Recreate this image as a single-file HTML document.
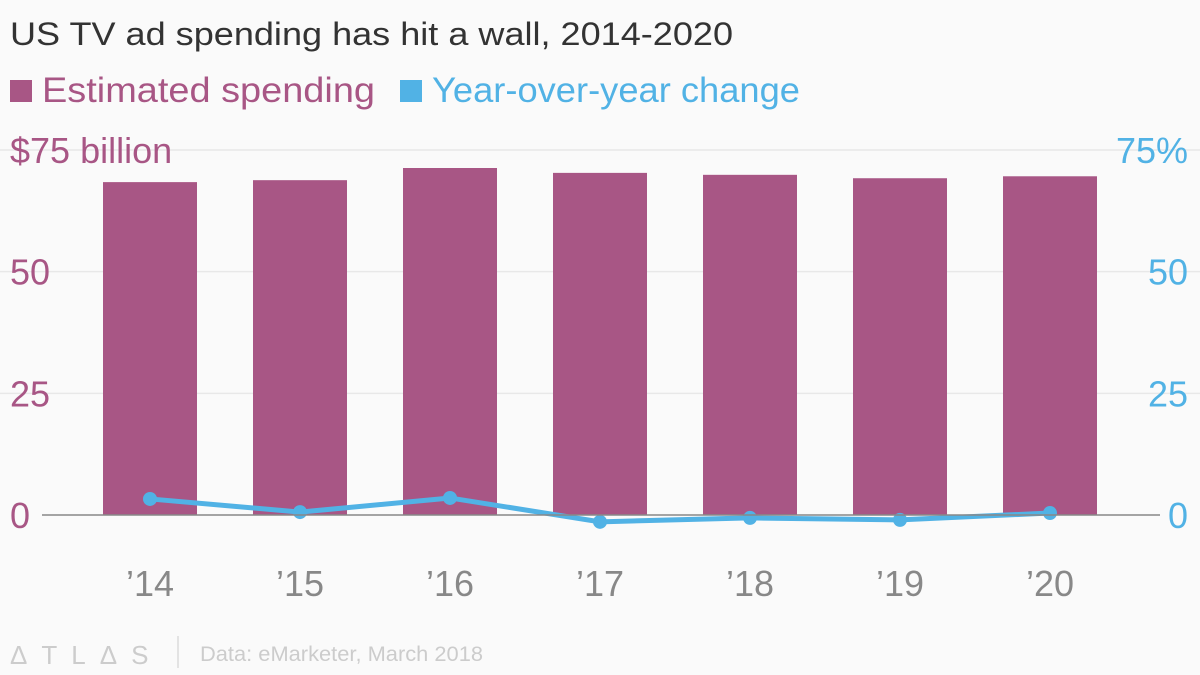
<!DOCTYPE html>
<html><head><meta charset="utf-8"><style>
body{margin:0;background:#fafafa;font-family:"Liberation Sans",sans-serif;}
#wrap{position:relative;width:1200px;height:675px;overflow:hidden;background:#fafafa}
</style></head><body>
<div id="wrap">
<svg id="chart" width="1200" height="675">
<text x="10" y="45" font-size="32" fill="#333" textLength="723" lengthAdjust="spacingAndGlyphs" font-family="Liberation Sans, sans-serif">US TV ad spending has hit a wall, 2014-2020</text>
<rect x="10" y="80" width="22" height="22" fill="#a85685"/>
<text x="42" y="102" font-size="35" fill="#a85685" textLength="333" lengthAdjust="spacingAndGlyphs">Estimated spending</text>
<rect x="400" y="80" width="22" height="22" fill="#51b2e5"/>
<text x="432" y="102" font-size="35" fill="#51b2e5" textLength="368" lengthAdjust="spacingAndGlyphs">Year-over-year change</text>
<g id="grid"></g><g id="bars"></g><g id="line"></g><g id="axes"></g>
<text x="10" y="664" font-size="26" fill="#ccc" letter-spacing="14">ΔTLΔS</text>
<line x1="178" y1="636" x2="178" y2="668" stroke="#ccc"/>
<text x="200" y="661" font-size="21" fill="#ccc" textLength="283" lengthAdjust="spacingAndGlyphs">Data: eMarketer, March 2018</text>
</svg>
</div>
<script>
const categories=["’14","’15","’16","’17","’18","’19","’20"];
const spending=[68.4,68.8,71.3,70.3,69.9,69.2,69.6];
const yoyChange=[3.3,0.6,3.5,-1.4,-0.6,-1.0,0.4];
const leftTicks=[0,25,50,75];
const leftTickLabels=["0","25","50","$75 billion"];
const rightTicks=[0,25,50,75];
const rightTickLabels=["0","25","50","75%"];
const NS="http://www.w3.org/2000/svg";
const y0=515,yTop=150;
const yL=v=>y0-(v/75)*(y0-yTop);
const yR=v=>y0-(v/75)*(y0-yTop);
const xC=i=>150+i*150;
function mk(t,a,p){const e=document.createElementNS(NS,t);for(const k in a)e.setAttribute(k,a[k]);p.appendChild(e);return e;}
const grid=document.getElementById('grid'),bars=document.getElementById('bars'),line=document.getElementById('line'),axes=document.getElementById('axes');
leftTicks.forEach((v,i)=>{
 if(v!==0){const g=mk('line',{x1:0,x2:1200,y1:yL(v),y2:yL(v),stroke:'#e8e8e8','stroke-width':1.5},grid);
 
 }
 const t=mk('text',{x:10,y:yL(v)+13,'font-size':36,fill:'#a85685'},axes);t.textContent=leftTickLabels[i];
 
 
});
rightTicks.forEach((v,i)=>{
 const t=mk('text',{x:1188,y:yR(v)+13,'font-size':36,fill:'#51b2e5','text-anchor':'end'},axes);t.textContent=rightTickLabels[i];
 
 
});
spending.forEach((v,i)=>{
 const r=mk('rect',{x:xC(i)-47,y:yL(v),width:94,height:y0-yL(v),fill:'#a85685'},bars);
 
 
 const t=mk('text',{x:xC(i),y:596,'font-size':36,fill:'#888','text-anchor':'middle'},axes);t.textContent=categories[i];
 
 
});
const zl=mk('line',{x1:42,x2:1160,y1:y0,y2:y0,stroke:'#888','stroke-width':1.5},axes);


const pl=mk('polyline',{points:yoyChange.map((v,i)=>xC(i)+','+yR(v)).join(' '),fill:'none',stroke:'#51b2e5','stroke-width':5},line);


yoyChange.forEach((v,i)=>{
 const c=mk('circle',{cx:xC(i),cy:yR(v),r:7,fill:'#51b2e5'},line);
 
 
});
</script>
</body></html>
